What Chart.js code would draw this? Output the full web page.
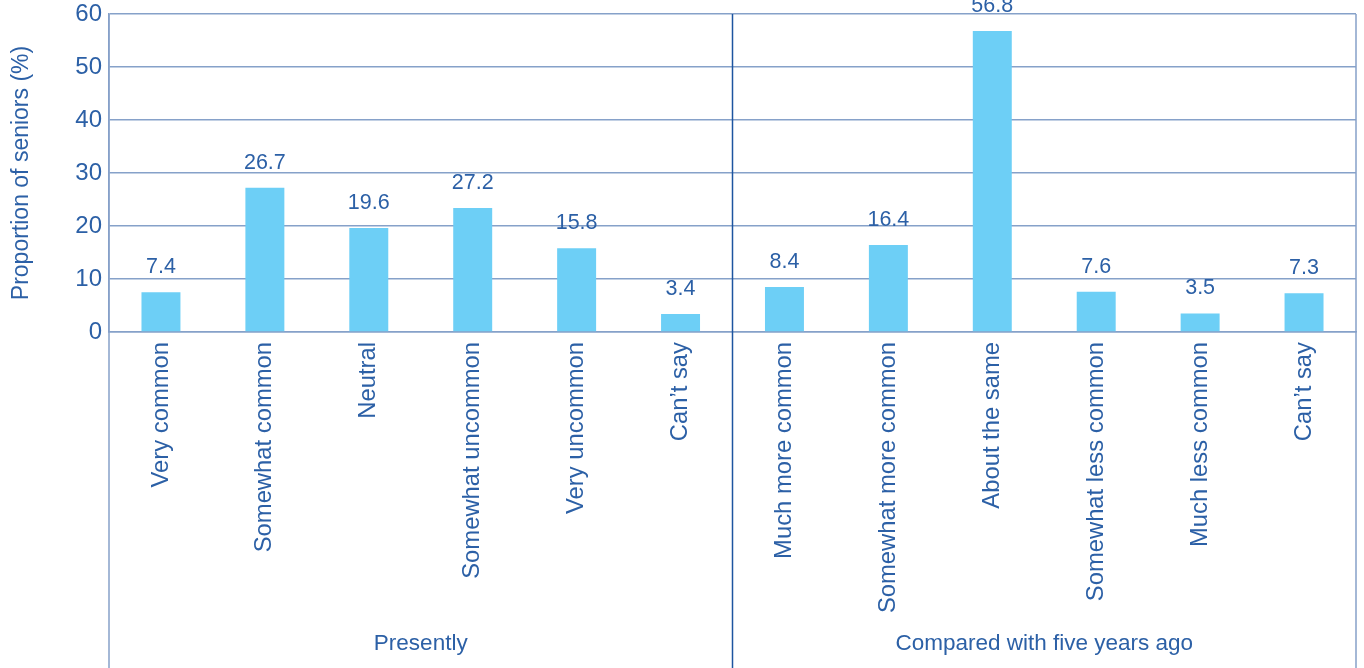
<!DOCTYPE html>
<html>
<head>
<meta charset="utf-8">
<script src="https://cdn.jsdelivr.net/npm/chart.js@4/dist/chart.umd.min.js"></script>
<style>
  html, body { margin: 0; padding: 0; background: #fff; }
  #wrap { width: 1364px; height: 668px; position: relative; }
</style>
</head>
<body>
<div id="wrap"><canvas id="seniorsChart"></canvas></div>
<script>
// categories
const categories = [
  'Very common', 'Somewhat common', 'Neutral', 'Somewhat uncommon', 'Very uncommon', 'Can\u2019t say',
  'Much more common', 'Somewhat more common', 'About the same', 'Somewhat less common', 'Much less common', 'Can\u2019t say'
];
const groups = ['Presently', 'Compared with five years ago'];
const groupSizes = [6, 6];

// bar heights as drawn in the picture
const barValues = [7.5, 27.2, 19.6, 23.4, 15.8, 3.4, 8.5, 16.4, 56.8, 7.6, 3.5, 7.3];
// numbers printed above the bars
const printedValues = ['7.4', '26.7', '19.6', '27.2', '15.8', '3.4', '8.4', '16.4', '56.8', '7.6', '3.5', '7.3'];

const yTicks = [0, 10, 20, 30, 40, 50, 60];

const textColor = '#2c60a6';
const gridColor = '#86a1c9';
const dividerColor = '#1d55a0';
const barColor = '#6dcff6';
const fontFamily = '"Liberation Sans", Arial, Helvetica, sans-serif';

// value labels, frame lines and group labels
const decorPlugin = {
  id: 'decor',
  afterDatasetsDraw(chart) {
    const ctx = chart.ctx;
    const meta = chart.getDatasetMeta(0);
    ctx.save();
    ctx.fillStyle = textColor;
    ctx.font = '21.5px ' + fontFamily;
    ctx.textAlign = 'center';
    ctx.textBaseline = 'middle';
    meta.data.forEach((bar, i) => {
      ctx.fillText(printedValues[i], bar.x, bar.y - 25);
    });
    ctx.restore();
  },
  afterDraw(chart) {
    const ctx = chart.ctx;
    const area = chart.chartArea;
    const x = chart.scales.x;
    const h = chart.height;

    ctx.save();
    ctx.lineWidth = 1.5;
    ctx.strokeStyle = gridColor;
    [area.left, area.right].forEach(px => {
      ctx.beginPath();
      ctx.moveTo(px, area.top);
      ctx.lineTo(px, h);
      ctx.stroke();
    });

    // group dividers + group labels
    let start = 0;
    let leftEdge = area.left;
    ctx.fillStyle = textColor;
    ctx.font = '22.5px ' + fontFamily;
    ctx.textAlign = 'center';
    ctx.textBaseline = 'middle';
    groups.forEach((g, gi) => {
      const end = start + groupSizes[gi] - 1;
      let rightEdge = area.right;
      if (gi < groups.length - 1) {
        rightEdge = (x.getPixelForValue(end) + x.getPixelForValue(end + 1)) / 2;
        ctx.strokeStyle = dividerColor;
        ctx.beginPath();
        ctx.moveTo(rightEdge, area.top);
        ctx.lineTo(rightEdge, h);
        ctx.stroke();
      }
      ctx.fillText(g, (leftEdge + rightEdge) / 2, 644);
      leftEdge = rightEdge;
      start = end + 1;
    });
    ctx.restore();
  }
};

const ctx = document.getElementById('seniorsChart').getContext('2d');
new Chart(ctx, {
  type: 'bar',
  data: {
    labels: categories,
    datasets: [{
      data: barValues,
      backgroundColor: barColor,
      borderWidth: 0,
      barPercentage: 0.375,
      categoryPercentage: 1
    }]
  },
  options: {
    responsive: true,
    maintainAspectRatio: false,
    animation: false,
    layout: { padding: { top: 14, right: 8, left: 0, bottom: 0 } },
    plugins: {
      legend: { display: false },
      tooltip: { enabled: false }
    },
    scales: {
      x: {
        grid: { display: false, drawTicks: false },
        border: { display: true, color: gridColor, width: 1.5 },
        ticks: {
          autoSkip: false,
          minRotation: 90,
          maxRotation: 90,
          padding: 10,
          color: textColor,
          font: { family: fontFamily, size: 23.8 }
        },
        afterFit: s => { s.height = 336; }
      },
      y: {
        min: 0,
        max: 60,
        afterBuildTicks: s => { s.ticks = yTicks.map(v => ({ value: v })); },
        grid: { color: gridColor, lineWidth: 1.5, drawTicks: false },
        border: { display: true, color: gridColor, width: 1.5 },
        ticks: {
          padding: 7,
          color: textColor,
          font: { family: fontFamily, size: 24, lineHeight: 0.5 }
        },
        title: {
          display: true,
          text: 'Proportion of seniors (%)',
          color: textColor,
          font: { family: fontFamily, size: 23 },
          padding: { top: 8, bottom: 0 }
        },
        afterFit: s => { s.width = 109; }
      }
    }
  },
  plugins: [decorPlugin]
});
</script>
</body>
</html>
